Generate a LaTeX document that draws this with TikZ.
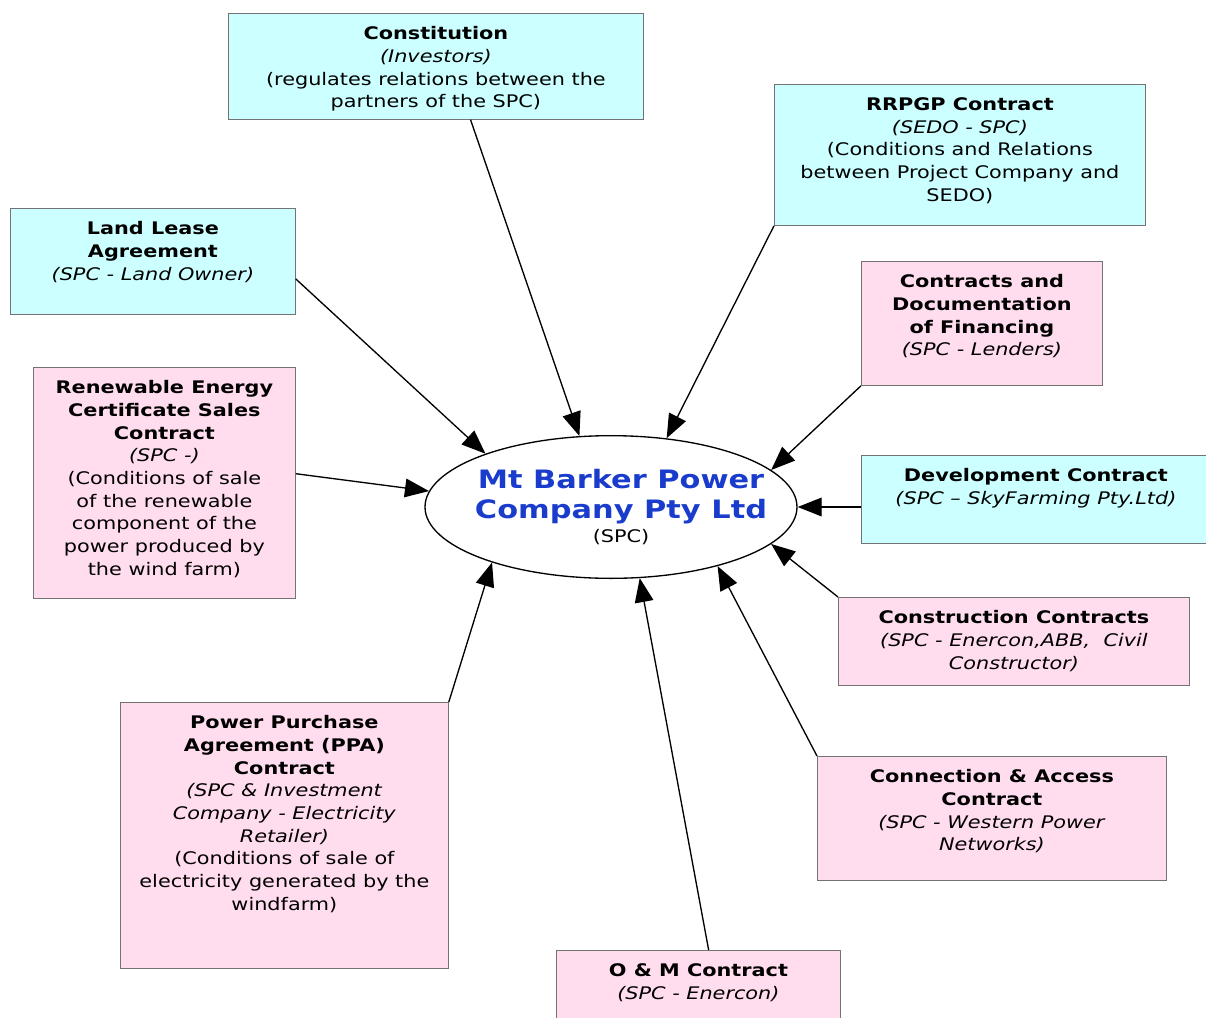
\documentclass[tikz,border=0pt]{standalone}
\usepackage{fontspec}
\setmainfont{DejaVu Sans}[FakeStretch=1.2]
\usetikzlibrary{arrows.meta,shapes.geometric}
\definecolor{boxcyan}{RGB}{204,255,255}
\definecolor{boxpink}{RGB}{255,221,238}
\definecolor{spcblue}{RGB}{25,60,205}
\newcommand{\boxtxt}[3]{\parbox[c][#2][t]{#1}{\centering\vspace*{10pt}#3}}
\newcommand{\spcline}[1]{\makebox[0pt]{\hspace{15pt}#1}}
\begin{document}
\begin{tikzpicture}[x=0.75pt,y=-0.75pt,
  box/.style={draw=black!55, line width=0.6pt, inner sep=0pt, anchor=north west, font=\fontsize{13pt}{17pt}\selectfont},
  cyanbox/.style={box, fill=boxcyan},
  pinkbox/.style={box, fill=boxpink},
  arr/.style={-{Triangle[length=18pt,width=14pt]}, line width=1pt}]
\clip (0,0) rectangle (1206,1017);
\fill[white] (0,0) rectangle (1206,1017);
\node[ellipse, draw, line width=1pt, fill=white, minimum width=279pt, minimum height=107pt, inner sep=0pt, align=center, font=\fontsize{19pt}{23pt}\selectfont] (spc) at (611,507){\spcline{\bfseries\color{spcblue}Mt Barker Power}\\\spcline{\bfseries\color{spcblue}Company Pty Ltd}\\[-5pt]\spcline{\fontsize{13pt}{17pt}\selectfont(SPC)}};
\node[cyanbox] (con) at (228,13){\boxtxt{311.25pt}{79.5pt}{\textbf{Constitution}\\\textit{(Investors)}\\(regulates relations between the\\partners of the SPC)}};
\node[cyanbox] (rrpgp) at (774,84){\boxtxt{278.25pt}{105.75pt}{\textbf{RRPGP Contract}\\\textit{(SEDO - SPC)}\\(Conditions and Relations\\between Project Company and\\SEDO)}};
\node[cyanbox] (ll) at (10,208){\boxtxt{213.75pt}{79.5pt}{\textbf{Land Lease}\\\textbf{Agreement}\\\textit{(SPC - Land Owner)}}};
\node[pinkbox] (fin) at (861,261){\boxtxt{180.75pt}{93pt}{\textbf{Contracts and}\\\textbf{Documentation}\\\textbf{of Financing}\\\textit{(SPC - Lenders)}}};
\node[pinkbox] (ren) at (33,367){\boxtxt{196.5pt}{173.25pt}{\textbf{Renewable Energy}\\\textbf{Certificate Sales}\\\textbf{Contract}\\\textit{(SPC -)}\\(Conditions of sale\\of the renewable\\component of the\\power produced by\\the wind farm)}};
\node[cyanbox] (dev) at (861,455){\boxtxt{261.75pt}{66pt}{\textbf{Development Contract}\\\textit{(SPC – SkyFarming Pty.Ltd)}}};
\node[pinkbox] (cons) at (838,597){\boxtxt{263.25pt}{66pt}{\textbf{Construction Contracts}\\\textit{(SPC - Enercon,ABB,\ \ Civil}\\\textit{Constructor)}}};
\node[pinkbox] (ppa) at (120,702){\boxtxt{246pt}{199.5pt}{\textbf{Power Purchase}\\\textbf{Agreement (PPA)}\\\textbf{Contract}\\\textit{(SPC \& Investment}\\\textit{Company - Electricity}\\\textit{Retailer)}\\(Conditions of sale of\\electricity generated by the\\windfarm)}};
\node[pinkbox] (conn) at (817,756){\boxtxt{261.75pt}{93pt}{\textbf{Connection \& Access}\\\textbf{Contract}\\\textit{(SPC - Western Power}\\\textit{Networks)}}};
\node[pinkbox] (om) at (556,950){\boxtxt{213pt}{66pt}{\textbf{O \& M Contract}\\\textit{(SPC - Enercon)}}};
\draw[arr] (con.-57) -- (spc.114);
\draw[arr] (rrpgp.south west) -- (spc.51);
\draw[arr] (ll.-7.6) -- (spc.157);
\draw[arr] (fin.south west) -- (spc.13);
\draw[arr] (ren.4) -- (spc.175);
\draw[arr] (dev.west |- spc.east) -- (spc.east);
\draw[arr] (cons.north west) -- (spc.-13);
\draw[arr] (ppa.north east) -- (spc.205);
\draw[arr] (conn.north west) -- (spc.-29);
\draw[arr] (om.77) -- (spc.-68);
\end{tikzpicture}
\end{document}
